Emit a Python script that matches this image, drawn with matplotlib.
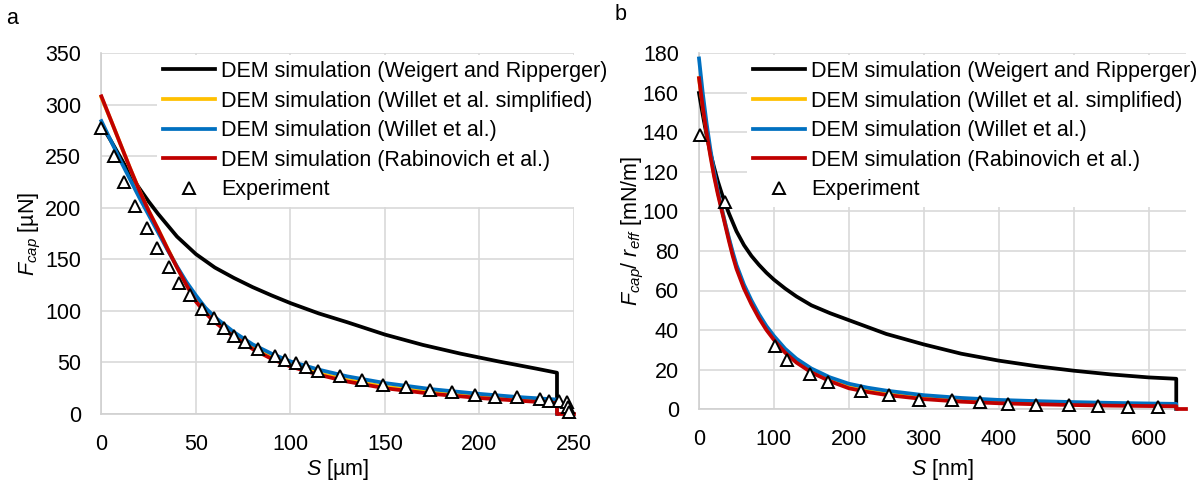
import matplotlib
matplotlib.use("Agg")
import matplotlib.pyplot as plt

plt.rcParams['font.family'] = ['Liberation Sans', 'DejaVu Sans']
plt.rcParams['mathtext.fontset'] = 'custom'
plt.rcParams['mathtext.rm'] = 'Liberation Sans'
plt.rcParams['mathtext.it'] = 'Liberation Sans:italic'
FS = 15.5

labels = ["DEM simulation (Weigert and Ripperger)",
          "DEM simulation (Willet et al. simplified)",
          "DEM simulation (Willet et al.)",
          "DEM simulation (Rabinovich et al.)",
          "Experiment"]
colors = ["#000000", "#FFC000", "#0070C0", "#C00000"]

# ---------------- panel a ----------------
a_black_x = [0, 5, 10, 15, 20, 25, 30, 40, 50, 60, 70, 80, 90, 100, 115, 130, 150, 170, 190, 210, 230, 241, 241]
a_black_y = [280, 265, 249, 233, 219, 206, 194, 172, 155, 142, 132, 123, 115, 107.5, 97.5, 89, 77, 67, 58.5, 51, 44, 40, 0]

a_red_x = [0, 5, 10, 15, 20, 25, 30, 35, 40, 45, 50, 55, 60, 70, 80, 90, 100, 115, 130, 150, 175, 200, 220, 241, 241, 250]
a_red_y = [308, 285, 262, 239, 217, 197, 179, 160, 142, 125, 109, 98, 89, 75, 63, 53.5, 46, 38, 31.5, 25, 19.5, 15.5, 13, 10.5, 0, 0]

a_yel_x = [0, 5, 10, 15, 20, 25, 30, 35, 40, 45, 50, 55, 60, 70, 80, 90, 100, 115, 130, 150, 175, 200, 220, 241, 241]
a_yel_y = [307, 285, 262, 239, 217, 197, 179, 160.5, 142.5, 126, 110, 99, 90, 76.5, 64.5, 55, 47.5, 39.5, 33, 26.5, 21, 17, 14.5, 12, 0]

a_blue_x = [0, 5, 10, 15, 20, 25, 30, 35, 40, 45, 50, 55, 60, 70, 80, 90, 100, 115, 130, 150, 175, 200, 220, 241, 241]
a_blue_y = [284, 265, 246, 228, 210, 193, 176, 159, 143, 128, 115, 103, 94, 79.5, 67.5, 58.5, 51, 43, 36.5, 30, 24, 19.5, 16.5, 14, 0]

a_exp_x = [0, 6.5, 12.2, 17.9, 24.1, 29.4, 35.5, 41.2, 46.9, 53.2, 59.3, 64.9, 70.4, 76.1, 82.6, 91.7, 97.0,
           102.7, 108.0, 114.7, 126.0, 137.6, 149.1, 160.9, 173.9, 185.3, 197.8, 208.4, 220.0, 232.0, 237.0,
           242.3, 246.2, 246.8, 247.6]
a_exp_y = [277, 250, 225, 202, 180, 161, 143, 127, 115, 102, 93, 83, 76, 70, 63, 56, 52,
           49, 46, 42, 37, 33, 28.5, 26, 23, 21, 18, 16.5, 16, 14.3, 12.6,
           12.6, 11.5, 7, 2]

# ---------------- panel b ----------------
b_black_x = [0, 5, 10, 15, 20, 25, 30, 35, 40, 50, 60, 70, 80, 90, 100, 115, 130, 150, 175, 200, 250,
             300, 350, 400, 450, 500, 550, 600, 637, 637]
b_black_y = [160, 149, 139, 130, 122.5, 115.5, 109.5, 104, 99, 90, 83, 77.5, 73, 69, 65.5, 61, 57, 52.5, 48.5, 45, 38,
             32.7, 28, 24.5, 21.7, 19.4, 17.5, 16, 15.3, 0]

b_red_x = [0, 5, 10, 15, 20, 25, 30, 35, 40, 45, 50, 60, 70, 80, 90, 100, 115, 130, 150, 175, 200, 225, 250,
           300, 350, 400, 450, 500, 550, 600, 637, 637, 650]
b_red_y = [167.5, 153, 140, 128.5, 118, 109, 101, 93, 85, 77.5, 71, 61, 53, 46, 40, 35, 28.5, 23.5, 18.5, 14, 10.5, 8.6, 7.1,
           5.0, 3.7, 2.9, 2.4, 2.0, 1.7, 1.5, 1.4, 0, 0]

b_yel_x = [0, 5, 10, 15, 20, 25, 30, 35, 40, 45, 50, 60, 70, 80, 90, 100, 115, 130, 150, 175, 200, 225, 250,
           300, 350, 400, 450, 500, 550, 600, 637, 637]
b_yel_y = [167.5, 153.5, 141, 129.5, 119, 110, 102, 94, 86, 78.5, 72, 62, 54, 47, 41, 36, 29.5, 24.5, 19.5, 15, 11.7, 9.7, 8.2,
           6.0, 4.6, 3.8, 3.2, 2.8, 2.4, 2.1, 2.0, 0]

b_blue_x = [0, 5, 10, 15, 20, 25, 30, 35, 40, 45, 50, 60, 70, 80, 90, 100, 115, 130, 150, 175, 200, 225, 250,
            300, 350, 400, 450, 500, 550, 600, 637, 637]
b_blue_y = [177.5, 160, 145, 132, 120.5, 110.5, 102, 94, 86.5, 79.5, 73, 63, 55, 48, 42, 37, 30.5, 25.5, 20.5, 16, 12.8, 10.8, 9.3,
            7.0, 5.6, 4.6, 4.0, 3.5, 3.1, 2.8, 2.6, 0]

b_exp_x = [1, 34.3, 101.9, 118, 147.7, 172, 216, 253, 293, 337.5, 375.5, 413, 450, 493.5, 532.5, 573, 613]
b_exp_y = [138.5, 104.7, 31.8, 25, 17.8, 13.7, 9.3, 7.3, 4.7, 4.7, 3.6, 2.5, 2.2, 2.2, 1.4, 0.8, 0.8]

fig = plt.figure(figsize=(12.02, 4.82), dpi=100)
axA = fig.add_axes([101.4/1202, 1-414/482, (574-101.4)/1202, (414-53)/482])
axB = fig.add_axes([699/1202, 1-409/482, (1186-699)/1202, (409-53.5)/482])

def draw(ax, series, exp, xlim, ylim, xticks, yticks, xlabel, ylabel, xl_coords, yl_coords, leg_anchor):
    handles = []
    for (xs, ys), c in zip(series, colors):
        h, = ax.plot(xs, ys, color=c, lw=2.7, clip_on=False, zorder=3, solid_joinstyle='round')
        handles.append(h)
    h, = ax.plot(exp[0], exp[1], ls='none', marker='^', ms=8.5, mfc='white', mec='black',
                 mew=1.4, clip_on=False, zorder=4)
    handles.append(h)
    ax.set_xlim(*xlim)
    ax.set_ylim(*ylim)
    ax.set_xticks(xticks)
    ax.set_yticks(yticks)
    ax.grid(True, color='#d9d9d9', lw=1.2, zorder=0)
    ax.set_axisbelow(True)
    for s in ['top', 'right']:
        ax.spines[s].set_visible(False)
    for s in ['left', 'bottom']:
        ax.spines[s].set_color('#d0d0d0')
        ax.spines[s].set_linewidth(1.2)
    ax.tick_params(length=0, labelsize=FS, colors='black', pad=14.5)
    ax.set_xlabel(xlabel, fontsize=FS)
    ax.set_ylabel(ylabel, fontsize=FS)
    ax.xaxis.label.set_va('center')
    ax.yaxis.label.set_va('center')
    ax.xaxis.set_label_coords(*xl_coords)
    ax.yaxis.set_label_coords(*yl_coords)
    leg = ax.legend(handles, labels, loc='upper left', bbox_to_anchor=leg_anchor,
                    bbox_transform=fig.transFigure, fontsize=FS, frameon=True,
                    fancybox=False, edgecolor='none', facecolor='white', framealpha=1,
                    borderaxespad=0, borderpad=0.3, handlelength=2.4, handletextpad=0.28,
                    labelspacing=0.4)
    leg.set_zorder(5)

draw(axA, [(a_black_x, a_black_y), (a_yel_x, a_yel_y), (a_blue_x, a_blue_y), (a_red_x, a_red_y)],
     (a_exp_x, a_exp_y), (0, 250), (0, 350), range(0, 251, 50), range(0, 351, 50),
     r'$S$ [µm]', r'$F_{cap}$ [µN]', (0.5, -0.155), (-0.151, 0.5), (157/1202, 1-54.5/482))

draw(axB, [(b_black_x, b_black_y), (b_yel_x, b_yel_y), (b_blue_x, b_blue_y), (b_red_x, b_red_y)],
     (b_exp_x, b_exp_y), (0, 650), (0, 180), range(0, 601, 100), range(0, 181, 20),
     r'$S$ [nm]', r'$F_{cap}$/ $r_{eff}$ [mN/m]', (0.5, -0.171), (-0.1355, 0.5), (747/1202, 1-54.5/482))

fig.text(12/1202, 1-18/482, 'a', fontsize=FS, ha='center', va='center')
fig.text(621/1202, 1-15/482, 'b', fontsize=FS, ha='center', va='center')

fig.savefig('out.png', dpi=100)
